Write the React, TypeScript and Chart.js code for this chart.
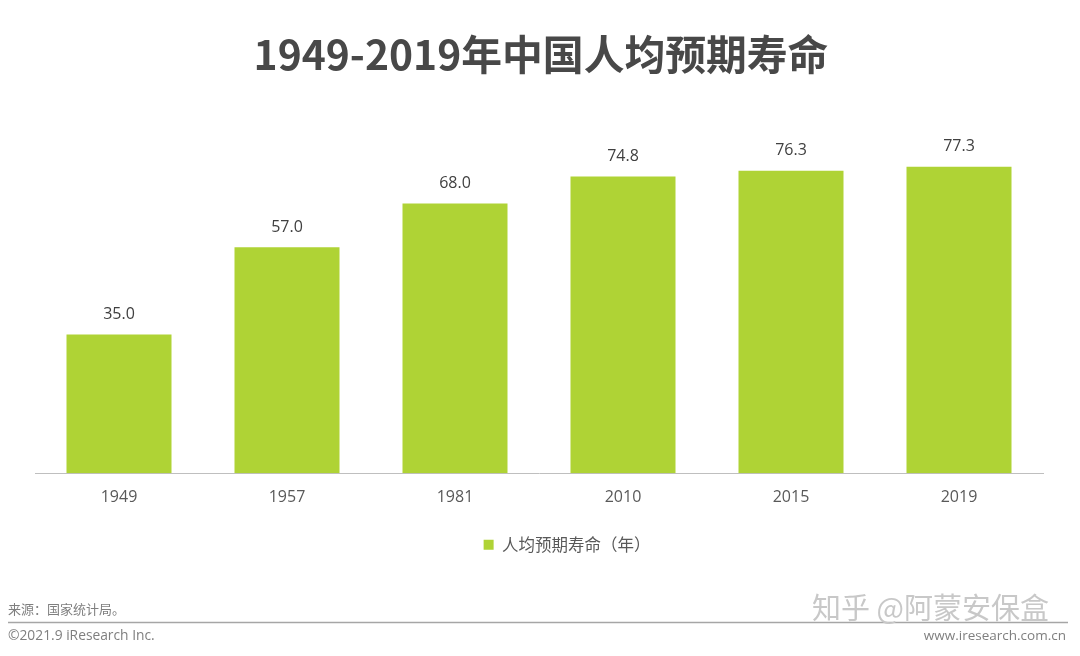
import React, { useEffect, useRef } from "react";
import Chart from "chart.js/auto";

const years = ["1949", "1957", "1981", "2010", "2015", "2019"];
const lifeExpectancy = [35.0, 57.0, 68.0, 74.8, 76.3, 77.3];
const seriesName = "人均预期寿命（年）";
const titleText = "1949-2019年中国人均预期寿命";
const sourceText = "来源：国家统计局。";
const copyrightText = "©2021.9 iResearch Inc.";
const siteText = "www.iresearch.com.cn";
const watermarkText = "知乎 @阿蒙安保盒";

const CJK = '"Noto Sans CJK SC", sans-serif';
const LATIN = '"Open Sans", "Noto Sans CJK SC", sans-serif';

// value labels over the bars
const barLabels = {
  id: "barLabels",
  afterDatasetsDraw(chart: Chart) {
    const { ctx } = chart;
    const meta = chart.getDatasetMeta(0);
    ctx.save();
    ctx.font = "16px " + LATIN;
    ctx.fillStyle = "#404040";
    ctx.textAlign = "center";
    ctx.textBaseline = "middle";
    meta.data.forEach((bar, i) => {
      ctx.fillText(lifeExpectancy[i].toFixed(1), bar.x, bar.y - 20);
    });
    ctx.restore();
  },
};

// legend and title sit right of centre in the reference
const blockShift = {
  id: "blockShift",
  afterLayout(chart: Chart) {
    if (chart.legend) {
      chart.legend.left += 28;
      chart.legend.right += 28;
    }
    const title = (chart as any).titleBlock;
    if (title) {
      title.left += 2;
      title.right += 2;
    }
  },
};

// footer: source, rule, copyright and the watermark
const footer = {
  id: "footer",
  afterDraw(chart: Chart) {
    const { ctx } = chart;
    ctx.save();
    ctx.strokeStyle = "#a6a6a6";
    ctx.lineWidth = 1.5;
    ctx.beginPath();
    ctx.moveTo(8, 622.5);
    ctx.lineTo(1068, 622.5);
    ctx.stroke();

    ctx.textBaseline = "middle";
    ctx.fillStyle = "#7f7f7f";
    ctx.font = "13px " + CJK;
    ctx.fillText(sourceText, 8, 609);
    ctx.font = "13.8px " + LATIN;
    ctx.fillText(copyrightText, 8, 636);
    ctx.font = "13.5px " + LATIN;
    ctx.textAlign = "right";
    ctx.fillText(siteText, 1066, 636);

    ctx.textAlign = "left";
    ctx.fillStyle = "#c8c8c8";
    ctx.font = "29px " + CJK;
    ctx.fillText(watermarkText, 812, 608);
    ctx.restore();
  },
};

const App: React.FC = () => {
  const chartRef = useRef<HTMLCanvasElement>(null);

  useEffect(() => {
    document.body.style.margin = "0";
    let myChart: Chart | null = null;
    if (chartRef.current) {
      myChart = new Chart(chartRef.current, {
        type: "bar",
        data: {
          labels: years,
          datasets: [
            {
              label: seriesName,
              data: lifeExpectancy,
              backgroundColor: "#AFD335",
              categoryPercentage: 0.625,
              barPercentage: 1,
            },
          ],
        },
        options: {
          responsive: false,
          animation: false,
          layout: { padding: { left: 35, right: 37, top: 0, bottom: 93 } },
          plugins: {
            title: {
              display: true,
              text: titleText,
              color: "#484848",
              font: { family: CJK, size: 40.8, weight: "bold" },
              padding: { top: 30, bottom: 77 },
            },
            legend: {
              position: "bottom",
              labels: {
                boxWidth: 10,
                boxHeight: 10,
                padding: 14,
                color: "#595959",
                font: { family: CJK, size: 16.5 },
              },
            },
            tooltip: { enabled: false },
          },
          scales: {
            x: {
              grid: { display: false, drawTicks: false },
              border: { color: "#bfbfbf", width: 1 },
              ticks: {
                color: "#595959",
                font: { family: LATIN, size: 16 },
                padding: 15,
              },
            },
            y: {
              display: false,
              min: 0,
              max: 80,
            },
          },
        },
        plugins: [barLabels, blockShift, footer],
      });
    }
    return () => {
      if (myChart) {
        myChart.destroy();
      }
    };
  }, []);

  return <canvas ref={chartRef} width={1080} height={656} style={{ display: "block" }} />;
};

export default App;
